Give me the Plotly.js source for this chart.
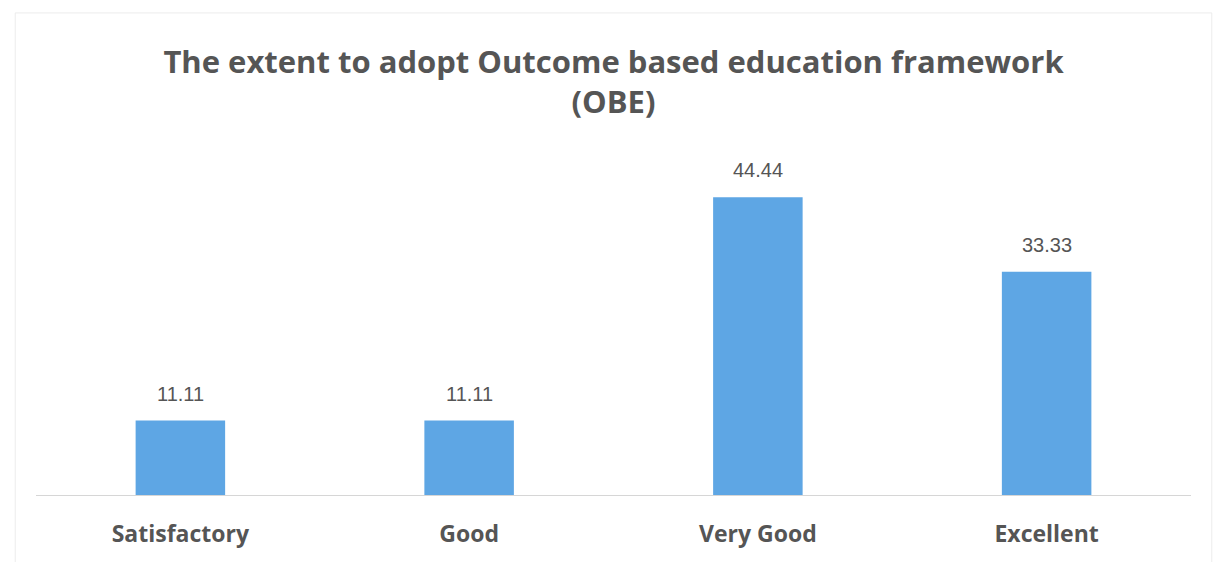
<!DOCTYPE html>
<html>
<head>
<meta charset="utf-8">
<script src="https://cdn.plot.ly/plotly-3.0.1.min.js"></script>
<style>html,body{margin:0;padding:0;background:#fff;}#chart{width:1217px;height:562px;}</style>
</head>
<body>
<div id="chart"></div>
<script>
const categories = ["Satisfactory", "Good", "Very Good", "Excellent"];
const values = [11.11, 11.11, 44.44, 33.33];
const valueLabels = ["11.11", "11.11", "44.44", "33.33"];

const trace = {
  type: "bar",
  x: categories,
  y: values,
  marker: {color: "#5EA6E4"},
  hoverinfo: "x+y"
};

const annotations = categories.map((c, i) => ({
  x: c, y: values[i], xref: "x", yref: "y",
  text: valueLabels[i], showarrow: false,
  yanchor: "middle", yshift: 27,
  font: {family: "Liberation Sans, Arial, sans-serif", size: 20, color: "#555555"}
}));

const layout = {
  width: 1217, height: 562,
  margin: {l: 36, r: 26, t: 140, b: 67},
  paper_bgcolor: "#ffffff", plot_bgcolor: "#ffffff",
  bargap: 0.69,
  showlegend: false,
  title: {
    text: "The extent to adopt Outcome based education framework<br>(OBE)",
    x: 0.5, xanchor: "center", xref: "paper", yref: "container", y: 0.87, yanchor: "top",
    font: {family: "Open Sans, sans-serif", size: 31, color: "#555555", weight: "bold"}
  },
  xaxis: {
    type: "category",
    showline: true, linecolor: "#d6d6d6", linewidth: 1,
    showgrid: false, zeroline: false, ticks: "",
    ticklabelstandoff: 18,
    tickfont: {family: "Open Sans, sans-serif", size: 23, color: "#555555", weight: "bold"}
  },
  yaxis: {
    range: [0, 53], visible: false, showgrid: false, zeroline: false
  },
  annotations: annotations,
  shapes: [{
    type: "rect", xref: "paper", yref: "paper",
    x0: -0.018, x1: 1.018, y0: -0.55, y1: 1.358,
    line: {color: "#ececec", width: 1}, fillcolor: "rgba(0,0,0,0)"
  }]
};

Plotly.newPlot("chart", [trace], layout, {displayModeBar: false, staticPlot: true});
</script>
</body>
</html>
